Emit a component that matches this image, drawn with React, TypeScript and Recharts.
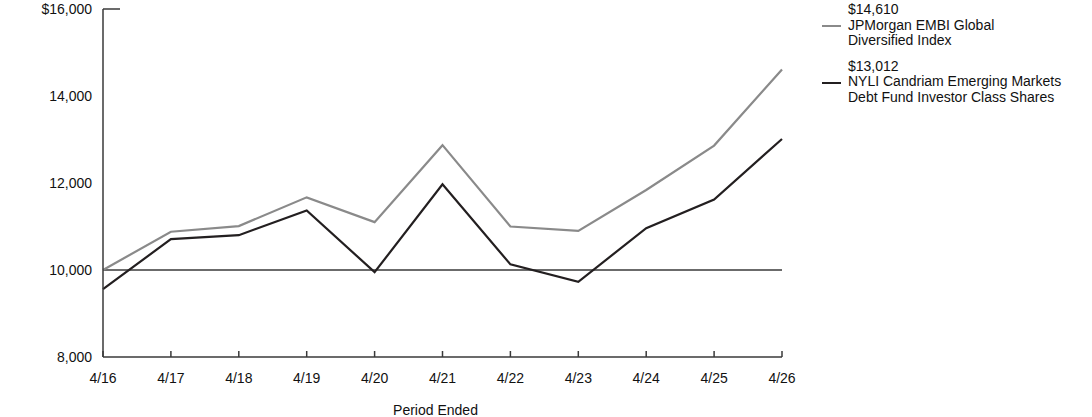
import { Line, LineChart, ReferenceLine, XAxis, YAxis } from 'recharts';

const periods = ['4/16', '4/17', '4/18', '4/19', '4/20', '4/21', '4/22', '4/23', '4/24', '4/25', '4/26'];
const indexValues = [10000, 10880, 11010, 11670, 11100, 12870, 11000, 10900, 11840, 12860, 14610];
const fundValues = [9560, 10710, 10800, 11370, 9950, 11970, 10130, 9730, 10960, 11620, 13012];
const yTicks = [8000, 10000, 12000, 14000, 16000];

const indexName = ['$14,610', 'JPMorgan EMBI Global', 'Diversified Index'];
const fundName = ['$13,012', 'NYLI Candriam Emerging Markets', 'Debt Fund Investor Class Shares'];

const FONT = '"Liberation Sans", Arial, sans-serif';
const AXIS = '#3a3a3a';

const data = periods.map((p, i) => ({ period: p, index: indexValues[i], fund: fundValues[i] }));

const fmt = (v: number) => v.toLocaleString('en-US');

function YTick({ x, y, payload }: any) {
  const v = payload.value as number;
  return (
    <g>
      {v === 16000 && <line x1={x + 11} x2={x + 28} y1={y} y2={y} stroke={AXIS} strokeWidth={1.5} />}
      <text x={x} y={y} dy={5} textAnchor="end" fontSize={14} fill="#111" fontFamily={FONT}>
        {v === 16000 ? '$' + fmt(v) : fmt(v)}
      </text>
    </g>
  );
}

function XTick({ x, y, payload }: any) {
  return (
    <g>
      <line x1={x} x2={x} y1={y} y2={y - 6} stroke={AXIS} strokeWidth={1.5} />
      <text x={x} y={y} dy={26} textAnchor="middle" fontSize={14} fill="#111" fontFamily={FONT}>
        {payload.value}
      </text>
    </g>
  );
}

const legendItems = [
  { lines: indexName, color: '#8a8a8a' },
  { lines: fundName, color: '#231f20' },
];

function LegendBox() {
  return (
    <div
      style={{
        position: 'absolute',
        left: 822,
        top: 2,
        fontFamily: FONT,
        fontSize: 14,
        lineHeight: '15.5px',
        color: '#111',
      }}
    >
      {legendItems.map((item, i) => (
        <div key={i} style={{ position: 'relative', paddingLeft: 26, marginBottom: 10 }}>
          <div
            style={{
              position: 'absolute',
              left: 0,
              top: 23,
              width: 19,
              height: 2,
              background: item.color,
            }}
          />
          {item.lines.map((l, j) => (
            <div key={j} style={{ whiteSpace: 'nowrap' }}>{l}</div>
          ))}
        </div>
      ))}
    </div>
  );
}

export default function App() {
  return (
    <div style={{ position: 'absolute', left: 0, top: 0, width: 1092, height: 417 }}>
      <LineChart width={1092} height={417} data={data} margin={{ top: 9, right: 310, bottom: 0, left: 0 }}>
        <XAxis
          dataKey="period"
          height={60}
          tickSize={0}
          tickMargin={0}
          tick={<XTick />}
          axisLine={{ stroke: AXIS, strokeWidth: 1.5 }}
          tickLine={false}
          interval={0}
          label={{
            value: 'Period Ended',
            position: 'insideBottom',
            offset: 2,
            dx: -7,
            fontSize: 14,
            fill: '#111',
            fontFamily: FONT,
          }}
        />
        <YAxis
          width={103}
          domain={[8000, 16000]}
          ticks={yTicks}
          interval={0}
          tickSize={0}
          tickMargin={11}
          tick={<YTick />}
          tickLine={false}
          axisLine={{ stroke: AXIS, strokeWidth: 1.5 }}
        />
        <ReferenceLine y={10000} stroke={AXIS} strokeWidth={1.5} />
        <Line type="linear" dataKey="index" stroke="#8a8a8a" strokeWidth={2.2} dot={false} isAnimationActive={false} />
        <Line type="linear" dataKey="fund" stroke="#231f20" strokeWidth={2.2} dot={false} isAnimationActive={false} />
      </LineChart>
      <LegendBox />
    </div>
  );
}
